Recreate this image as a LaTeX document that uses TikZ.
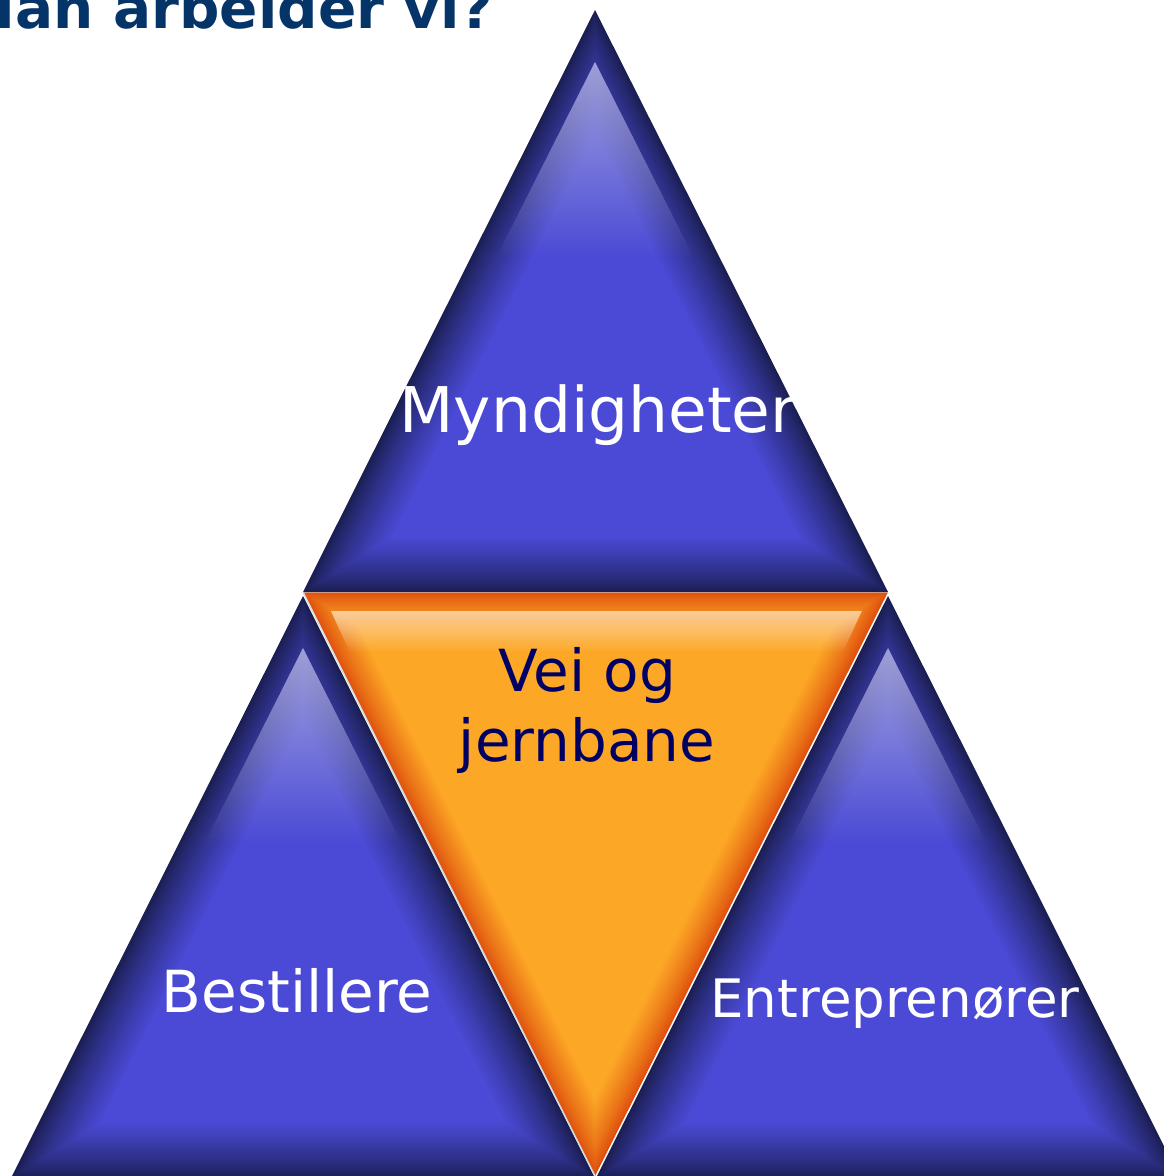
\documentclass[tikz,border=0pt]{standalone}
\usepackage{fontspec}
\setmainfont{DejaVu Sans}
\usetikzlibrary{fadings}
\definecolor{bedge}{RGB}{26,30,80}
\definecolor{bbase}{RGB}{74,74,214}
\definecolor{oedge}{RGB}{222,78,14}
\definecolor{obase}{RGB}{252,168,38}
\definecolor{hilite}{RGB}{172,172,226}
\definecolor{gloss}{RGB}{252,214,170}
\definecolor{titleblue}{RGB}{5,52,105}
\definecolor{navytext}{RGB}{0,0,100}
\tikzfading[name=fadedown, top color=transparent!10, bottom color=transparent!100]
% #1 A, #2 B, #3 C, #4 incenter, #5 inradius, #6 edge colour, #7 base colour, #8 glow width
\newcommand\glowtri[8]{%
  \foreach \i in {0,...,40}{%
    \pgfmathsetmacro\s{1-\i*#8/(40*#5)}%
    \pgfmathtruncatemacro\p{100*(\i/40)^0.8}%
    \fill[fill=#7!\p!#6, scale around={\s:#4}] #1 -- #2 -- #3 -- cycle;
  }}
\tikzset{
  lbl/.style={inner sep=0pt, text=white, anchor=base},
}
\begin{document}
\begin{tikzpicture}[x=1pt,y=-1pt]
\useasboundingbox (0,0) rectangle (1164,1176);
\clip (0,0) rectangle (1164,1176);
\fill[white] (0,0) rectangle (1164,1176);
% title
\node[anchor=base east, inner sep=0pt, text=titleblue, font=\bfseries\fontsize{56.5}{62}\selectfont] (title) at (493,28) {Hvordan arbeider vi?};
% blue triangles
\glowtri{(595,10)}{(303,592)}{(888,592)}{(595,412)}{180}{bedge}{bbase}{55}
\glowtri{(303,596)}{(11,1178)}{(595,1178)}{(303,998)}{180}{bedge}{bbase}{55}
\glowtri{(888,596)}{(596,1178)}{(1180,1178)}{(888,998)}{180}{bedge}{bbase}{55}
% highlights
\fill[hilite, path fading=fadedown] (595,62) -- (496,258) -- (694,258) -- cycle;
\fill[hilite, path fading=fadedown] (303,648) -- (204,844) -- (402,844) -- cycle;
\fill[hilite, path fading=fadedown] (888,648) -- (789,844) -- (987,844) -- cycle;
% orange triangle
\glowtri{(303,592)}{(888,592)}{(595,1176)}{(595,772)}{180}{oedge}{obase}{34}
\fill[gloss, path fading=fadedown] (331,611) -- (862,611) -- (843,652) -- (350,652) -- cycle;
\draw[white!70!gray, line width=1.4pt] (303,592) -- (595,1176);
\draw[white!60!gray, line width=0.8pt, opacity=0.6] (303,592) -- (888,592);
% labels
\node[lbl, font=\fontsize{63}{70}\selectfont] (myn) at (598,432) {Myndigheter};
\node[lbl, font=\fontsize{58}{68}\selectfont] (best) at (297,1012) {Bestillere};
\node[lbl, font=\fontsize{53}{64}\selectfont] (entr) at (895,1017) {Entreprenører};
\node[inner sep=0pt, text=navytext, align=center, font=\fontsize{58}{70}\selectfont] (vei) at (587,710) {Vei og\\jernbane};
\end{tikzpicture}
\end{document}
